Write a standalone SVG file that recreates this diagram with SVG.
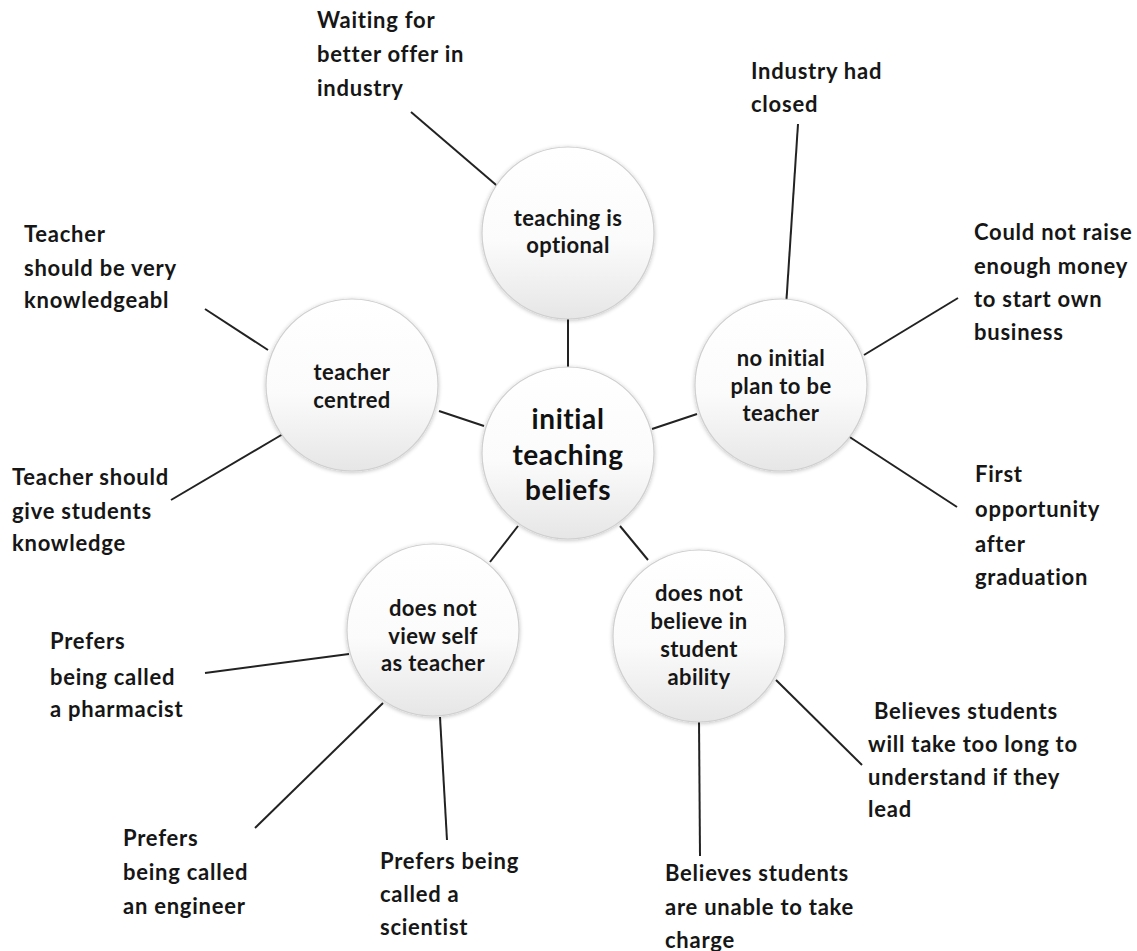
<svg xmlns="http://www.w3.org/2000/svg" width="1137" height="951" viewBox="0 0 1137 951">
  <defs>
    <linearGradient id="ballFill" x1="0" y1="0" x2="0" y2="1">
      <stop offset="0" stop-color="#ffffff"/>
      <stop offset="0.55" stop-color="#fbfbfb"/>
      <stop offset="1" stop-color="#e6e6e6"/>
    </linearGradient>
    <filter id="soft" x="-20%" y="-20%" width="140%" height="140%">
      <feGaussianBlur in="SourceAlpha" stdDeviation="2"/>
      <feOffset dx="0" dy="1" result="b"/>
      <feComponentTransfer><feFuncA type="linear" slope="0.25"/></feComponentTransfer>
      <feMerge><feMergeNode/><feMergeNode in="SourceGraphic"/></feMerge>
    </filter>
  </defs>
  <style>
    .ball { fill: url(#ballFill); stroke: #cfcfcf; stroke-width: 1.2; filter: url(#soft); }
    .link { stroke: #222; stroke-width: 2; fill: none; }
    .lbl { font-family: Lato, "Open Sans", "Liberation Sans", sans-serif; font-weight: bold; font-size: 22px; letter-spacing: 0.75px; fill: #161616; }
    .node { font-family: Lato, "Open Sans", "Liberation Sans", sans-serif; font-weight: bold; font-size: 22px; letter-spacing: 0.4px; fill: #161616; text-anchor: middle; }
    .hub { font-family: Lato, "Open Sans", "Liberation Sans", sans-serif; font-weight: bold; font-size: 28px; letter-spacing: 0.6px; fill: #111; text-anchor: middle; }
  </style>
  <rect width="1137" height="951" fill="#ffffff"/>

  <!-- connectors -->
  <g id="connectors">
    <line class="link" x1="411" y1="112" x2="502" y2="190"/>
    <line class="link" x1="568" y1="318" x2="568" y2="368"/>
    <line class="link" x1="798" y1="124" x2="786" y2="307"/>
    <line class="link" x1="958" y1="298" x2="864" y2="355"/>
    <line class="link" x1="845" y1="434" x2="957" y2="507"/>
    <line class="link" x1="652" y1="429" x2="697" y2="414"/>
    <line class="link" x1="439" y1="411" x2="484" y2="426"/>
    <line class="link" x1="205" y1="309" x2="268" y2="350"/>
    <line class="link" x1="171" y1="500" x2="283" y2="434"/>
    <line class="link" x1="518" y1="526" x2="490" y2="562"/>
    <line class="link" x1="620" y1="526" x2="648" y2="560"/>
    <line class="link" x1="205" y1="673" x2="349" y2="654"/>
    <line class="link" x1="255" y1="828" x2="383" y2="703"/>
    <line class="link" x1="440" y1="717" x2="447" y2="840"/>
    <line class="link" x1="862" y1="765" x2="776" y2="680"/>
    <line class="link" x1="699" y1="720" x2="700" y2="856"/>
  </g>

  <!-- hub -->
  <g id="hub">
    <circle class="ball" cx="568" cy="453" r="86"/>
    <text class="hub" x="568" y="429">initial</text>
    <text class="hub" x="568" y="465">teaching</text>
    <text class="hub" x="568" y="500">beliefs</text>
  </g>

  <g id="teaching-optional">
    <circle class="ball" cx="568" cy="233" r="86"/>
    <text class="node" x="568" y="226">teaching is</text>
    <text class="node" x="568" y="253">optional</text>
  </g>

  <g id="no-initial-plan">
    <circle class="ball" cx="781" cy="385" r="86"/>
    <text class="node" x="781" y="366">no initial</text>
    <text class="node" x="781" y="394">plan to be</text>
    <text class="node" x="781" y="421">teacher</text>
  </g>

  <g id="teacher-centred">
    <circle class="ball" cx="352" cy="385" r="86"/>
    <text class="node" x="352" y="380">teacher</text>
    <text class="node" x="352" y="408">centred</text>
  </g>

  <g id="not-view-self">
    <circle class="ball" cx="433" cy="630" r="86"/>
    <text class="node" x="433" y="616">does not</text>
    <text class="node" x="433" y="644">view self</text>
    <text class="node" x="433" y="671">as teacher</text>
  </g>

  <g id="not-believe-ability">
    <circle class="ball" cx="699" cy="636" r="86"/>
    <text class="node" x="699" y="601">does not</text>
    <text class="node" x="699" y="629">believe in</text>
    <text class="node" x="699" y="657">student</text>
    <text class="node" x="699" y="685">ability</text>
  </g>

  <!-- leaf labels -->
  <g id="leaf-waiting">
    <text class="lbl" x="317" y="28">Waiting for</text>
    <text class="lbl" x="317" y="62">better offer in</text>
    <text class="lbl" x="317" y="96">industry</text>
  </g>
  <g id="leaf-closed">
    <text class="lbl" x="751" y="79">Industry had</text>
    <text class="lbl" x="751" y="112">closed</text>
  </g>
  <g id="leaf-money">
    <text class="lbl" x="974" y="240">Could not raise</text>
    <text class="lbl" x="974" y="274">enough money</text>
    <text class="lbl" x="974" y="307">to start own</text>
    <text class="lbl" x="974" y="340">business</text>
  </g>
  <g id="leaf-first">
    <text class="lbl" x="975" y="482">First</text>
    <text class="lbl" x="975" y="517">opportunity</text>
    <text class="lbl" x="975" y="552">after</text>
    <text class="lbl" x="975" y="585">graduation</text>
  </g>
  <g id="leaf-knowledgeable">
    <text class="lbl" x="24" y="242">Teacher</text>
    <text class="lbl" x="24" y="276">should be very</text>
    <text class="lbl" x="24" y="308">knowledgeabl</text>
  </g>
  <g id="leaf-give">
    <text class="lbl" x="12" y="485">Teacher should</text>
    <text class="lbl" x="12" y="519">give students</text>
    <text class="lbl" x="12" y="551">knowledge</text>
  </g>
  <g id="leaf-pharmacist">
    <text class="lbl" x="50" y="649">Prefers</text>
    <text class="lbl" x="50" y="685">being called</text>
    <text class="lbl" x="50" y="717">a pharmacist</text>
  </g>
  <g id="leaf-engineer">
    <text class="lbl" x="123" y="846">Prefers</text>
    <text class="lbl" x="123" y="880">being called</text>
    <text class="lbl" x="123" y="914">an engineer</text>
  </g>
  <g id="leaf-scientist">
    <text class="lbl" x="380" y="869">Prefers being</text>
    <text class="lbl" x="380" y="902">called a</text>
    <text class="lbl" x="380" y="935">scientist</text>
  </g>
  <g id="leaf-too-long">
    <text class="lbl" x="874" y="719">Believes students</text>
    <text class="lbl" x="868" y="752">will take too long to</text>
    <text class="lbl" x="868" y="785">understand if they</text>
    <text class="lbl" x="868" y="817">lead</text>
  </g>
  <g id="leaf-unable">
    <text class="lbl" x="665" y="881">Believes students</text>
    <text class="lbl" x="665" y="915">are unable to take</text>
    <text class="lbl" x="665" y="948">charge</text>
  </g>
</svg>
